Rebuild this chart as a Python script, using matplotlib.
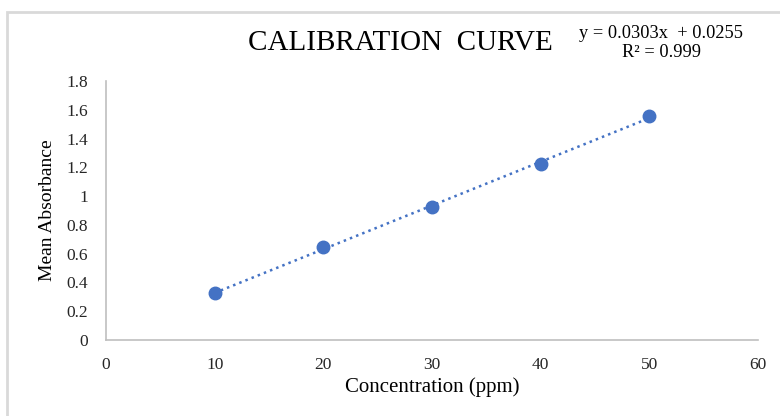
import numpy as np
import matplotlib.pyplot as plt
from matplotlib.patches import Rectangle

plt.rcParams['font.family'] = ['Liberation Serif', 'DejaVu Serif']

conc = [10, 20, 30, 40, 50]
absorb = [0.326, 0.645, 0.925, 1.222, 1.556]
x_ticks = [0, 10, 20, 30, 40, 50, 60]
y_ticks = [0, 0.2, 0.4, 0.6, 0.8, 1.0, 1.2, 1.4, 1.6, 1.8]
y_labels = ['0', '0.2', '0.4', '0.6', '0.8', '1', '1.2', '1.4', '1.6', '1.8']
eq_text = 'y = 0.0303x  + 0.0255\nR² = 0.999'

blue = '#4472C4'
grey = '#d9d9d9'

fig = plt.figure(figsize=(7.8, 4.16), dpi=100)
ax = fig.add_axes([106/780, 76/416, 652/780, 259/416])

# outer chart border (only top/left visible in the crop)
fig.patches.append(Rectangle((7/780, -0.5), 2, (404/416) + 0.5, transform=fig.transFigure,
                             fill=False, edgecolor=grey, linewidth=2))

coef = np.polyfit(conc, absorb, 1)
fx = np.array([conc[0], conc[-1]])
ax.plot(fx, np.polyval(coef, fx), linestyle=':', color=blue, linewidth=1.8)
ax.plot(conc, absorb, 'o', color=blue, markersize=9, zorder=3)

ax.set_xlim(0, 60)
ax.set_ylim(0, 1.8)
ax.set_xticks(x_ticks)
ax.set_yticks(y_ticks)
ax.set_yticklabels(y_labels)
ax.tick_params(length=0, labelsize=12.5, colors='#262626')
ax.tick_params(axis='x', pad=12)
ax.tick_params(axis='y', pad=13)
for s in ['top', 'right']:
    ax.spines[s].set_visible(False)
for s in ['left', 'bottom']:
    ax.spines[s].set_color('#bfbfbf')
    ax.spines[s].set_linewidth(1.2)

ax.set_xlabel('Concentration (ppm)', fontsize=15, labelpad=3)
ax.set_ylabel('Mean Absorbance', fontsize=14, labelpad=7)

fig.text(400/780, 1 - 43/416, 'CALIBRATION  CURVE', fontsize=21, ha='center', va='center')
fig.text(661/780, 1 - 43/416, eq_text, fontsize=13.2, ha='center', va='center', linespacing=1.15)

fig.savefig('out.png', dpi=100)
